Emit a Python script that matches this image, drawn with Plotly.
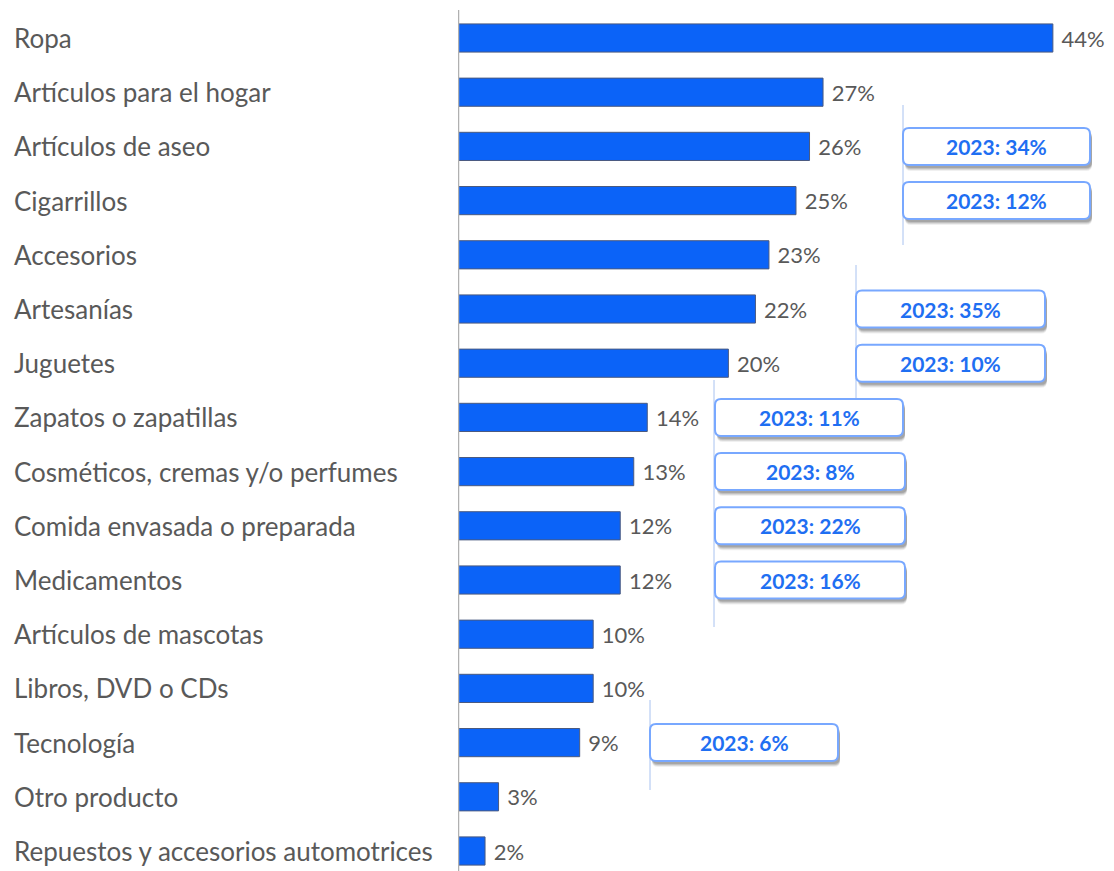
import plotly.graph_objects as go

categories = ["Ropa", "Artículos para el hogar", "Artículos de aseo", "Cigarrillos",
              "Accesorios", "Artesanías", "Juguetes", "Zapatos o zapatillas",
              "Cosméticos, cremas y/o perfumes", "Comida envasada o preparada",
              "Medicamentos", "Artículos de mascotas", "Libros, DVD o CDs",
              "Tecnología", "Otro producto", "Repuestos y accesorios automotrices"]
values = [44, 27, 26, 25, 23, 22, 20, 14, 13, 12, 12, 10, 10, 9, 3, 2]

ann_categories = ["Artículos de aseo", "Cigarrillos", "Artesanías", "Juguetes",
                  "Zapatos o zapatillas", "Cosméticos, cremas y/o perfumes",
                  "Comida envasada o preparada", "Medicamentos", "Tecnología"]
ann_values = [34, 12, 35, 10, 11, 8, 22, 16, 6]

# layout geometry (page pixels; the page body has an 8px margin)
OFF = 8
W, H = 1114 - OFF, 871 - OFF
L = 458 - OFF
PXU = 13.52          # pixels per percent
ROW0, ROWSTEP = 38 - OFF, 54.2
xmax = (W - L) / PXU
ytop = -ROW0 / ROWSTEP
ybot = (H - ROW0) / ROWSTEP

def xd(px):
    return (px - OFF - L) / PXU

def yd(py):
    return (py - OFF - ROW0) / ROWSTEP

box_x = {  # left/right page-pixel edges of each note box
    "Artículos de aseo": (903, 1090), "Cigarrillos": (903, 1090),
    "Artesanías": (856, 1045), "Juguetes": (856, 1045),
    "Zapatos o zapatillas": (715, 903), "Cosméticos, cremas y/o perfumes": (715, 905),
    "Comida envasada o preparada": (715, 905), "Medicamentos": (715, 905),
    "Tecnología": (650, 838),
}
connectors = [(903, 105, 245), (856, 265, 400), (714, 380, 627), (650, 700, 790)]

GREY = "#595959"
BLUE = "#0b63f8"

fig = go.Figure(go.Bar(
    y=categories, x=values, orientation="h",
    marker=dict(color=BLUE, line=dict(color="#4a5a80", width=1)),
    width=0.52,
    text=[f"{v}%" for v in values], textposition="outside",
    texttemplate=" %{text}",
    textfont=dict(family="Lato", size=22, color=GREY),
    cliponaxis=False, hoverinfo="skip",
))

shapes = []
annotations = []

# axis line
shapes.append(dict(type="line", xref="x", yref="y", x0=0, x1=0, y0=yd(10), y1=ybot,
                   line=dict(color="#b0b0b0", width=2.5), layer="above"))

# left-aligned category labels
for c in categories:
    annotations.append(dict(xref="paper", yref="y", x=(12 - OFF - L) / (W - L), y=c,
                            xanchor="left", yanchor="middle", text=c, showarrow=False,
                            font=dict(family="Lato", size=26, color=GREY)))

# connector lines
for px, py0, py1 in connectors:
    shapes.append(dict(type="line", xref="x", yref="y", x0=xd(px), x1=xd(px),
                       y0=yd(py0), y1=yd(py1), line=dict(color="#a8c2f0", width=1),
                       layer="below"))

def rrect(x0, x1, y0, y1, rx, ry):
    return (f"M {x0+rx},{y0} L {x1-rx},{y0} Q {x1},{y0} {x1},{y0+ry} "
            f"L {x1},{y1-ry} Q {x1},{y1} {x1-rx},{y1} L {x0+rx},{y1} "
            f"Q {x0},{y1} {x0},{y1-ry} L {x0},{y0+ry} Q {x0},{y0} {x0+rx},{y0} Z")

rx, ry = 6 / PXU, 6 / ROWSTEP
half = 18.5 / ROWSTEP
for c, v in zip(ann_categories, ann_values):
    i = categories.index(c)
    px0, px1 = box_x[c]
    x0, x1 = xd(px0), xd(px1)
    # soft shadow
    for k, op in [(6, 0.08), (5, 0.12), (4, 0.16), (3, 0.2)]:
        dx, dy = 2 / PXU, k / ROWSTEP
        shapes.append(dict(type="path", xref="x", yref="y",
                           path=rrect(x0 + dx, x1 + dx, i - half + dy, i + half + dy, rx, ry),
                           fillcolor=f"rgba(60,60,60,{op})", line=dict(width=0)))
    shapes.append(dict(type="path", xref="x", yref="y",
                       path=rrect(x0, x1, i - half, i + half, rx, ry),
                       fillcolor="white", line=dict(color="#78a8ff", width=2)))
    annotations.append(dict(xref="x", yref="y", x=(x0 + x1) / 2, y=i,
                            text=f"<b>2023: {v}%</b>", showarrow=False,
                            xanchor="center", yanchor="middle",
                            font=dict(family="Lato", size=21, color="#1f6ff2")))

fig.update_layout(
    width=W, height=H,
    margin=dict(l=L, r=0, t=0, b=0),
    plot_bgcolor="white", paper_bgcolor="white",
    showlegend=False,
    xaxis=dict(range=[0, xmax], visible=False, fixedrange=True),
    yaxis=dict(range=[ybot, ytop], showticklabels=False, showline=False,
               showgrid=False, zeroline=False, ticks="", fixedrange=True),
    shapes=shapes, annotations=annotations,
)

fig.write_html("out.html")
